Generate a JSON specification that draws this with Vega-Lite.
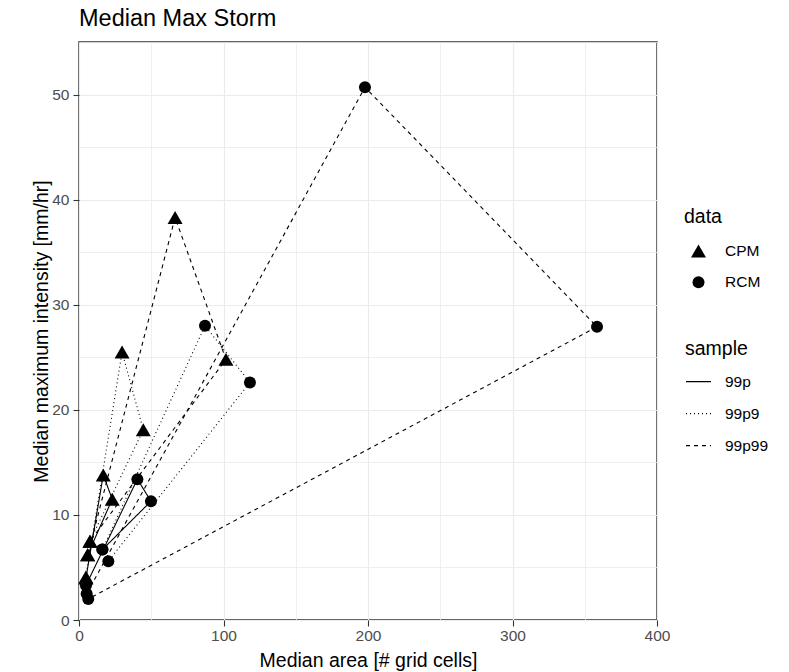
{
  "$schema": "https://vega.github.io/schema/vega-lite/v6.json",
  "width": 578,
  "height": 578,
  "autosize": {"type": "none"},
  "padding": {"left": 79, "top": 42, "right": 132, "bottom": 52},
  "background": "white",
  "title": {"text": "Median Max Storm", "anchor": "start", "frame": "group", "fontSize": 23.5, "fontWeight": "normal", "color": "black", "font": "Liberation Sans", "offset": 5},
  "data": {"values": [
    {"data": "CPM", "sample": "99p", "grp": "CPM_99p", "ord": 1, "area": 4.8, "intensity": 4.0},
    {"data": "CPM", "sample": "99p", "grp": "CPM_99p", "ord": 2, "area": 16.8, "intensity": 13.8},
    {"data": "CPM", "sample": "99p", "grp": "CPM_99p", "ord": 3, "area": 23.0, "intensity": 11.5},
    {"data": "CPM", "sample": "99p", "grp": "CPM_99p", "ord": 4, "area": 6.0, "intensity": 6.2},
    {"data": "CPM", "sample": "99p9", "grp": "CPM_99p9", "ord": 1, "area": 4.8, "intensity": 4.1},
    {"data": "CPM", "sample": "99p9", "grp": "CPM_99p9", "ord": 2, "area": 29.8, "intensity": 25.5},
    {"data": "CPM", "sample": "99p9", "grp": "CPM_99p9", "ord": 3, "area": 44.5, "intensity": 18.1},
    {"data": "CPM", "sample": "99p9", "grp": "CPM_99p9", "ord": 4, "area": 7.6, "intensity": 7.5},
    {"data": "CPM", "sample": "99p99", "grp": "CPM_99p99", "ord": 1, "area": 6.0, "intensity": 6.2},
    {"data": "CPM", "sample": "99p99", "grp": "CPM_99p99", "ord": 2, "area": 66.5, "intensity": 38.3},
    {"data": "CPM", "sample": "99p99", "grp": "CPM_99p99", "ord": 3, "area": 101.7, "intensity": 24.8},
    {"data": "CPM", "sample": "99p99", "grp": "CPM_99p99", "ord": 4, "area": 7.6, "intensity": 7.5},
    {"data": "RCM", "sample": "99p", "grp": "RCM_99p", "ord": 1, "area": 4.8, "intensity": 3.3},
    {"data": "RCM", "sample": "99p", "grp": "RCM_99p", "ord": 2, "area": 40.4, "intensity": 13.4},
    {"data": "RCM", "sample": "99p", "grp": "RCM_99p", "ord": 3, "area": 49.8, "intensity": 11.3},
    {"data": "RCM", "sample": "99p", "grp": "RCM_99p", "ord": 4, "area": 16.2, "intensity": 6.7},
    {"data": "RCM", "sample": "99p9", "grp": "RCM_99p9", "ord": 1, "area": 16.2, "intensity": 6.7},
    {"data": "RCM", "sample": "99p9", "grp": "RCM_99p9", "ord": 2, "area": 87.2, "intensity": 28.0},
    {"data": "RCM", "sample": "99p9", "grp": "RCM_99p9", "ord": 3, "area": 118.3, "intensity": 22.6},
    {"data": "RCM", "sample": "99p9", "grp": "RCM_99p9", "ord": 4, "area": 20.3, "intensity": 5.6},
    {"data": "RCM", "sample": "99p99", "grp": "RCM_99p99", "ord": 1, "area": 5.3, "intensity": 2.5},
    {"data": "RCM", "sample": "99p99", "grp": "RCM_99p99", "ord": 2, "area": 197.9, "intensity": 50.7},
    {"data": "RCM", "sample": "99p99", "grp": "RCM_99p99", "ord": 3, "area": 358.5, "intensity": 27.9},
    {"data": "RCM", "sample": "99p99", "grp": "RCM_99p99", "ord": 4, "area": 6.4, "intensity": 2.0}
  ]},
  "encoding": {
    "x": {"field": "area", "type": "quantitative", "scale": {"domain": [0, 400], "nice": false, "zero": false},
      "axis": {"title": "Median area [# grid cells]", "values": [0, 50, 100, 150, 200, 250, 300, 350, 400],
        "labelExpr": "datum.value % 100 === 0 ? datum.label : ''",
        "tickOpacity": {"condition": {"test": "datum.value % 100 !== 0", "value": 0}, "value": 1},
        "gridWidth": {"condition": {"test": "datum.value % 100 !== 0", "value": 0.8}, "value": 1.2},
        "labelPadding": 2, "titlePadding": 8, "labelFlush": false, "labelOverlap": false}},
    "y": {"field": "intensity", "type": "quantitative", "scale": {"domain": [0, 55], "nice": false, "zero": false},
      "axis": {"title": "Median maximum intensity [mm/hr]", "values": [0, 5, 10, 15, 20, 25, 30, 35, 40, 45, 50, 55],
        "labelExpr": "datum.value % 10 === 0 ? datum.label : ''",
        "tickOpacity": {"condition": {"test": "datum.value % 10 !== 0", "value": 0}, "value": 1},
        "gridWidth": {"condition": {"test": "datum.value % 10 !== 0", "value": 0.8}, "value": 1.2},
        "labelPadding": 4, "titlePadding": 0, "labelFlush": false, "labelOverlap": false}}
  },
  "layer": [
    {
      "mark": {"type": "line", "color": "black", "strokeWidth": 1.1},
      "encoding": {
        "detail": {"field": "grp", "type": "nominal"},
        "order": {"field": "ord", "type": "quantitative"},
        "strokeDash": {"field": "sample", "type": "nominal",
          "scale": {"domain": ["99p", "99p9", "99p99"], "range": [[1, 0], [1, 3], [4, 4]]},
          "legend": {"title": "sample", "orient": "none", "legendX": 606, "legendY": 298, "symbolSize": 625,
            "symbolStrokeColor": "black", "symbolStrokeWidth": 1.2, "labelOffset": 13, "titlePadding": 8.7, "rowPadding": 10}}
      }
    },
    {
      "mark": {"type": "point", "filled": true, "color": "black", "opacity": 1, "strokeWidth": 0},
      "encoding": {
        "shape": {"field": "data", "type": "nominal",
          "scale": {"domain": ["CPM", "RCM"], "range": ["triangle-up", "circle"]},
          "legend": {"title": "data", "orient": "none", "legendX": 605, "legendY": 166, "symbolOffset": 6, "labelOffset": 18,
            "titlePadding": 15, "rowPadding": 12, "symbolFillColor": "black", "symbolStrokeColor": "black", "symbolOpacity": 1}},
        "size": {"field": "data", "type": "nominal",
          "scale": {"domain": ["CPM", "RCM"], "range": [225, 144]},
          "legend": {"title": "data", "orient": "none", "legendX": 605, "legendY": 166, "symbolOffset": 6, "labelOffset": 18,
            "titlePadding": 15, "rowPadding": 12, "symbolFillColor": "black", "symbolStrokeColor": "black", "symbolOpacity": 1}}
      }
    }
  ],
  "config": {
    "font": "Liberation Sans",
    "view": {"stroke": "#333333", "strokeWidth": 1.5},
    "axis": {"domain": false, "gridColor": "#EBEBEB", "tickColor": "#333333", "tickSize": 6, "tickWidth": 1.1,
      "labelColor": "#4D4D4D", "labelFontSize": 15.5, "labelFont": "Liberation Sans",
      "titleFontSize": 19.5, "titleFontWeight": "normal", "titleColor": "black", "titleFont": "Liberation Sans"},
    "legend": {"titleFontSize": 19.5, "titleFontWeight": "normal", "titleColor": "black", "titleFont": "Liberation Sans",
      "labelFontSize": 15.5, "labelColor": "black", "labelFont": "Liberation Sans", "padding": 0}
  }
}
